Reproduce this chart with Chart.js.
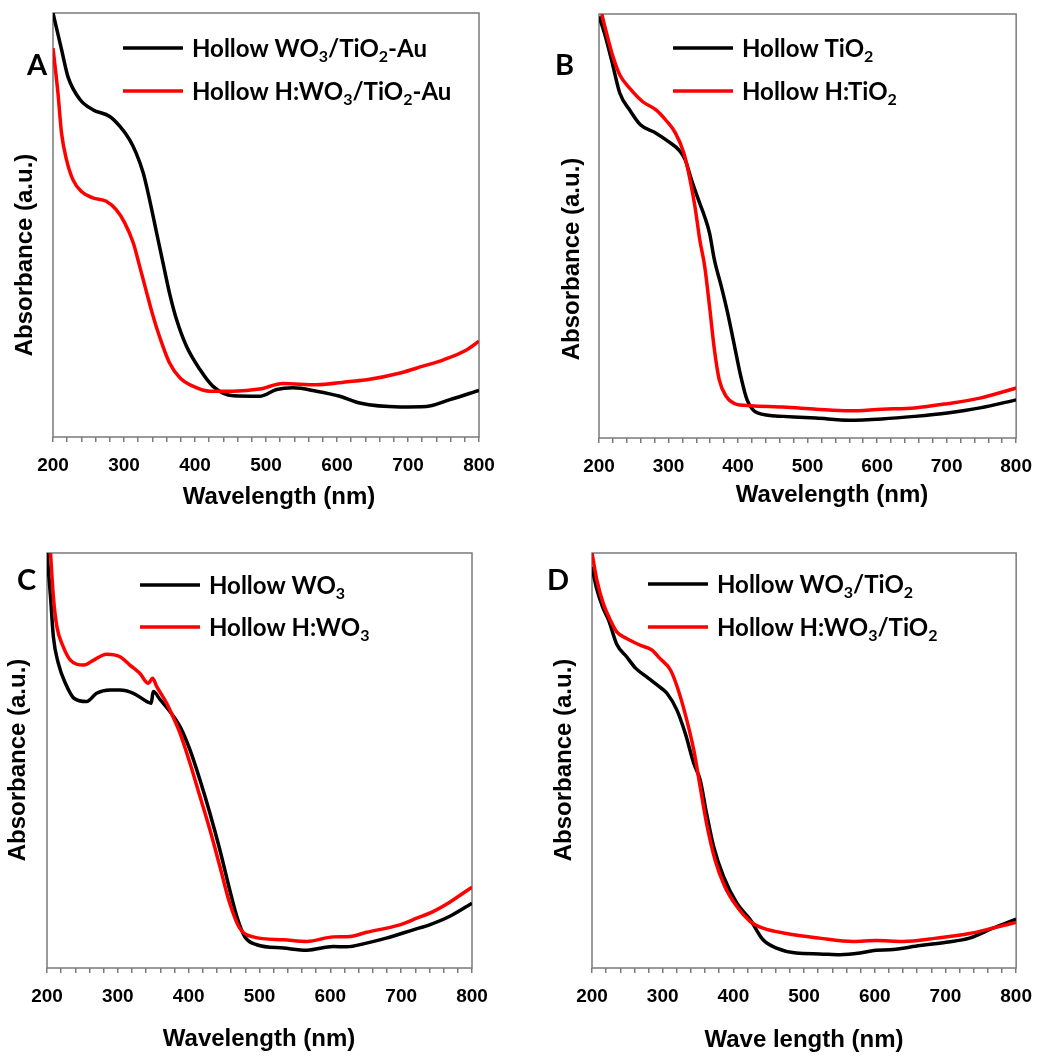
<!DOCTYPE html>
<html>
<head>
<meta charset="utf-8">
<script src="https://cdn.jsdelivr.net/npm/chart.js@4.4.1/dist/chart.umd.min.js"></script>
<style>
  html, body { margin: 0; padding: 0; background: #fff; }
  #wrap { position: relative; width: 1044px; height: 1063px; overflow: hidden; }
  #wrap canvas { position: absolute; }
</style>
</head>
<body>
<div id="wrap">
  <canvas id="cA" width="520" height="520" style="left:0;top:0"></canvas>
  <canvas id="cB" width="524" height="520" style="left:520px;top:0"></canvas>
  <canvas id="cC" width="520" height="533" style="left:0;top:530px"></canvas>
  <canvas id="cD" width="524" height="533" style="left:520px;top:530px"></canvas>
</div>
<script>
/* ── UV-vis absorbance spectra, four panels ──
   wavelength in nm, absorbance in a.u. (0 = bottom of frame, 100 = top) */

// ═══ DATA ═══
const X_MIN = 200, X_MAX = 800, X_MAJOR = 100, X_MINOR = 20;

// A: Hollow WO3/TiO2-Au
const A_NM_BLACK = [200,212,221,238,256,280,294,308,317,327,336,346,355,364,374,388,407,425,454,491,515,538,571,604,632,689,726,759,800];
const A_ABS_BLACK = [100,91.4,85,79.6,77.2,75.6,73.3,70.1,67,62.3,56,48.1,41,34,27.7,21.4,15.9,12,9.7,9.6,11.2,11.6,10.8,9.6,8,7.1,7.2,8.8,11];
const A_NM_RED = [200,207,212,219,228,240,256,275,289,301,313,322,332,341,350,364,379,397,421,454,491,524,571,618,642,689,721,750,783,800];
const A_ABS_RED = [91.7,81.1,71.7,65.4,60.7,57.9,56.4,55.6,53.6,50.5,45.8,40.3,34,28.5,23.7,17.5,13.9,12,10.8,10.8,11.3,12.6,12.3,13.1,13.5,15.1,16.7,18.2,20.6,22.6];

// B: Hollow TiO2
const B_NM_BLACK = [200,208,218,230,244,260,282,300,315,324,333,343,352,359,366,376,385,395,404,413,428,465,512,560,607,654,701,748,800];
const B_ABS_BLACK = [99.4,95.4,89.2,81.3,77.4,73.8,71.9,69.9,67.9,65.6,60.9,56.2,52.2,48.3,42,35.7,29.5,21.6,14.5,9,5.9,5.1,4.7,4.2,4.5,5.1,5.9,7.1,9];
const B_NM_RED = [204,211,220,230,244,263,282,296,310,322,331,338,345,352,359,366,373,383,395,418,465,512,560,607,654,701,748,800];
const B_ABS_RED = [100,95.4,90,85.6,82.5,79.3,77.4,75,71.9,67.2,60.9,54.6,46.7,40.5,31,20.8,13.7,9.8,8.1,7.6,7.3,6.8,6.4,6.8,7.1,8.1,9.4,11.8];

// C: Hollow WO3
const C_NM_BLACK = [200,205,209,216,226,238,256,270,289,303,322,341,347,350,360,374,388,402,416,430,444,458,468,479,496,534,567,604,623,651,679,717,740,768,800];
const C_ABS_BLACK = [100,89.4,79.8,73.4,68.6,65,64.2,66.2,67,67,66.2,64.2,63.8,66.6,64.6,61.7,58.1,52.5,45.3,37.3,28.5,18.8,12.4,7.6,5.6,4.8,4.3,5.2,5.1,6,7.2,9.2,10.4,12.4,15.6];
const C_NM_RED = [205,209,214,223,233,252,266,284,303,317,331,343,349,355,369,378,388,402,416,430,444,458,472,491,534,567,604,628,651,698,722,745,768,800];
const C_ABS_RED = [100,89.4,82.2,77.4,74.2,73,74.2,75.6,75,73,71,68.6,69.8,67.8,63.8,60.5,56.5,49.3,41.3,33.3,24.5,15.6,9.6,7.5,6.8,6.4,7.5,7.6,8.6,10.4,12,13.6,15.8,19.5];

// D: Hollow WO3/TiO2
const D_NM_BLACK = [200,206,215,224,235,249,262,277,292,306,320,332,344,353,362,372,386,405,424,442,461,489,522,551,579,602,621,664,701,734,767,800];
const D_ABS_BLACK = [96.6,91.8,87,83.6,78,75,72.2,70.2,68.2,66.2,62.2,56.5,49.3,45.3,37.3,29.3,22.1,15.6,11.6,6.8,4.8,3.6,3.4,3.2,3.6,4.3,4.4,5.4,6.2,7.2,9.6,11.8];
const D_NM_RED = [200,207,216,226,235,249,268,285,296,311,322,334,344,353,362,374,388,405,424,442,475,522,569,602,640,687,734,767,800];
const D_ABS_RED = [100,93.4,87.8,83.8,81,79.4,77.8,76.6,74.6,71.8,67,59.8,52.5,43.7,34.9,26.1,19.6,14.8,11.2,9.6,8.3,7.2,6.4,6.6,6.4,7.2,8.3,9.6,11];

// legend labels, "_n" = subscript digit
const LABELS_A = ['Hollow WO_3/TiO_2-Au', 'Hollow H:WO_3/TiO_2-Au'];
const LABELS_B = ['Hollow TiO_2', 'Hollow H:TiO_2'];
const LABELS_C = ['Hollow WO_3', 'Hollow H:WO_3'];
const LABELS_D = ['Hollow WO_3/TiO_2', 'Hollow H:WO_3/TiO_2'];

// ═══ STYLE / LAYOUT ═══
const FRAME_COLOR = '#7a7a7a';
const SERIES_COLORS = ['#000000', '#ff0000'];
const AXIS_FONT = '"Liberation Sans", Arial, sans-serif';
const LEGEND_FONT = 'Lato, "Open Sans", sans-serif';
const X_AXIS_H = 45;

// all coordinates in page pixels
const PANELS = [
  { canvas: 'cA', letter: 'A', ox: 0, oy: 0, plot: [53, 13, 479, 437],
    nm: [A_NM_BLACK, A_NM_RED], abs: [A_ABS_BLACK, A_ABS_RED], labels: LABELS_A,
    xTitle: 'Wavelength (nm)', xTitleAt: [279, 497], yTitleAt: [25, 255], letterAt: [27, 75],
    legend: { x1: 123, x2: 183, tx: 192, ys: [48, 91] } },
  { canvas: 'cB', letter: 'B', ox: 520, oy: 0, plot: [599, 14, 1023, 438],
    nm: [B_NM_BLACK, B_NM_RED], abs: [B_ABS_BLACK, B_ABS_RED], labels: LABELS_B,
    xTitle: 'Wavelength (nm)', xTitleAt: [832, 495], yTitleAt: [572, 259], letterAt: [555, 75],
    legend: { x1: 673, x2: 733, tx: 742, ys: [48, 91] } },
  { canvas: 'cC', letter: 'C', ox: 0, oy: 530, plot: [47, 553, 472, 968],
    nm: [C_NM_BLACK, C_NM_RED], abs: [C_ABS_BLACK, C_ABS_RED], labels: LABELS_C,
    xTitle: 'Wavelength (nm)', xTitleAt: [259, 1039], yTitleAt: [18, 760], letterAt: [17, 590],
    legend: { x1: 140, x2: 200, tx: 209, ys: [585, 627] } },
  { canvas: 'cD', letter: 'D', ox: 520, oy: 530, plot: [592, 553, 1017, 968],
    nm: [D_NM_BLACK, D_NM_RED], abs: [D_ABS_BLACK, D_ABS_RED], labels: LABELS_D,
    xTitle: 'Wave length (nm)', xTitleAt: [804, 1040], yTitleAt: [564, 760], letterAt: [547, 590],
    legend: { x1: 648, x2: 708, tx: 717, ys: [584, 627] } },
];

// draws text with "_n" subscripts
function drawRich(ctx, text, x, y, size) {
  const parts = text.split(/_(\d)/);
  let cx = x;
  parts.forEach((part, i) => {
    const sub = i % 2 === 1;
    ctx.font = 'bold ' + (sub ? Math.round(size * 0.65) : size) + 'px ' + LEGEND_FONT;
    ctx.fillText(part, cx, sub ? y + size * 0.2 : y);
    cx += ctx.measureText(part).width;
  });
}

// ═══ PANEL DECOR PLUGIN ═══
const decor = {
  id: 'decor',
  beforeDatasetsDraw(chart) {
    const { ctx, chartArea: a } = chart;
    ctx.save();
    ctx.strokeStyle = FRAME_COLOR;
    ctx.lineWidth = 1.5;
    ctx.strokeRect(a.left, a.top, a.right - a.left, a.bottom - a.top);
    ctx.restore();
  },
  afterDraw(chart, args, o) {
    const p = o.panel;
    const ctx = chart.ctx;
    ctx.save();
    ctx.fillStyle = '#000';
    ctx.textBaseline = 'middle';
    ctx.textAlign = 'center';

    // axis titles
    ctx.font = 'bold 24px ' + AXIS_FONT;
    ctx.fillText(p.xTitle, p.xTitleAt[0] - p.ox, p.xTitleAt[1] - p.oy);
    ctx.save();
    ctx.translate(p.yTitleAt[0] - p.ox, p.yTitleAt[1] - p.oy);
    ctx.rotate(-Math.PI / 2);
    ctx.fillText('Absorbance (a.u.)', 0, 0);
    ctx.restore();

    // panel letter
    ctx.textAlign = 'left';
    ctx.textBaseline = 'alphabetic';
    ctx.font = 'bold 29px ' + LEGEND_FONT;
    ctx.fillText(p.letter, p.letterAt[0] - p.ox, p.letterAt[1] - p.oy);

    // legend
    const lg = p.legend;
    chart.data.datasets.forEach((ds, i) => {
      const y = lg.ys[i] - p.oy;
      ctx.strokeStyle = ds.borderColor;
      ctx.lineWidth = 3.5;
      ctx.beginPath();
      ctx.moveTo(lg.x1 - p.ox, y);
      ctx.lineTo(lg.x2 - p.ox, y);
      ctx.stroke();
      ctx.fillStyle = '#000';
      drawRich(ctx, ds.label, lg.tx - p.ox, y + 9, 24);
    });
    ctx.restore();
  }
};

// ═══ CHARTS ═══
function buildPanel(p) {
  const el = document.getElementById(p.canvas);
  const [l, t, r, b] = p.plot;
  const padding = {
    left: l - p.ox,
    top: t - p.oy,
    right: p.ox + el.width - r,
    bottom: p.oy + el.height - b - X_AXIS_H
  };
  const datasets = p.labels.map((label, i) => ({
    label: label,
    data: p.nm[i].map((x, k) => ({ x: x, y: p.abs[i][k] })),
    borderColor: SERIES_COLORS[i],
    borderWidth: 3.5,
    pointRadius: 0,
    cubicInterpolationMode: 'monotone',
    order: 1 - i,
  }));

  return new Chart(el, {
    type: 'line',
    data: { datasets: datasets },
    plugins: [decor],
    options: {
      responsive: false,
      animation: false,
      layout: { padding: padding },
      plugins: {
        legend: { display: false },
        tooltip: { enabled: false },
        decor: { panel: p },
      },
      scales: {
        x: {
          type: 'linear',
          min: X_MIN,
          max: X_MAX,
          afterFit(s) { s.height = X_AXIS_H; },
          ticks: {
            stepSize: X_MINOR,
            autoSkip: false,
            maxRotation: 0,
            padding: 12,
            color: '#000',
            font: { family: AXIS_FONT, weight: 'bold', size: 19 },
            callback: v => (v % X_MAJOR === 0 ? String(v) : ''),
          },
          grid: { drawOnChartArea: false, tickLength: 5, color: FRAME_COLOR, lineWidth: 1.5 },
          border: { display: false },
        },
        y: { display: false, min: 0, max: 100 },
      },
    },
  });
}

PANELS.forEach(buildPanel);
</script>
</body>
</html>
